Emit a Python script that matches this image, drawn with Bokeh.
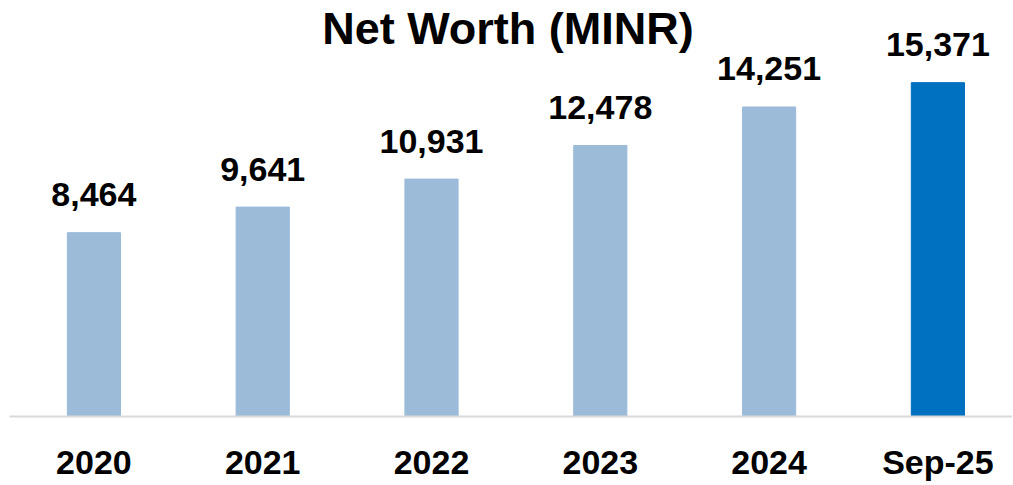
from bokeh.plotting import figure
from bokeh.models import Range1d, FixedTicker, ColumnDataSource, Label
from bokeh.core.properties import value
from bokeh.embed import file_html
from bokeh.resources import INLINE

categories = ["2020", "2021", "2022", "2023", "2024", "Sep-25"]
net_worth = [8464, 9641, 10931, 12478, 14251, 15371]
bar_colors = ["#9BBBD9", "#9BBBD9", "#9BBBD9", "#9BBBD9", "#9BBBD9", "#0070C0"]
value_labels = [f"{v:,}" for v in net_worth]
title_text = "Net Worth (MINR)"

FONT = "Liberation Sans"

xs = list(range(len(categories)))
src = ColumnDataSource(dict(x=xs, top=net_worth, color=bar_colors, label=value_labels))

p = figure(frame_width=1003, frame_height=408,
           x_range=Range1d(-0.5, 5.442), y_range=Range1d(0, 18785),
           output_backend="svg", toolbar_location=None,
           min_border_left=9, min_border_right=0, min_border_top=8, min_border_bottom=0)
p.outline_line_color = None
p.background_fill_color = "white"
p.border_fill_color = "white"
p.grid.visible = False
p.yaxis.visible = False

p.vbar(x="x", top="top", width=0.315, bottom=0, color="color", source=src)
p.text(x="x", y="top", text="label", source=src, y_offset=-38,
       text_align="center", text_baseline="alphabetic",
       text_font=value(FONT), text_font_style="bold", text_font_size="34px",
       text_color="black")

ax = p.xaxis[0]
ax.ticker = FixedTicker(ticks=xs)
ax.major_label_overrides = {i: c for i, c in enumerate(categories)}
ax.major_tick_line_color = None
ax.minor_tick_line_color = None
ax.axis_line_color = "#D9D9D9"
ax.axis_line_width = 2
ax.major_label_standoff = 20
ax.major_label_text_font = FONT
ax.major_label_text_font_style = "bold"
ax.major_label_text_font_size = "34px"
ax.major_label_text_color = "black"

title = Label(x=498.5, y=388, x_units="screen", y_units="screen", text=title_text,
              text_align="center", text_baseline="alphabetic",
              text_font=FONT, text_font_style="bold", text_font_size="45px",
              text_color="black")
p.add_layout(title)

open("out.html", "w").write(file_html(p, INLINE))
